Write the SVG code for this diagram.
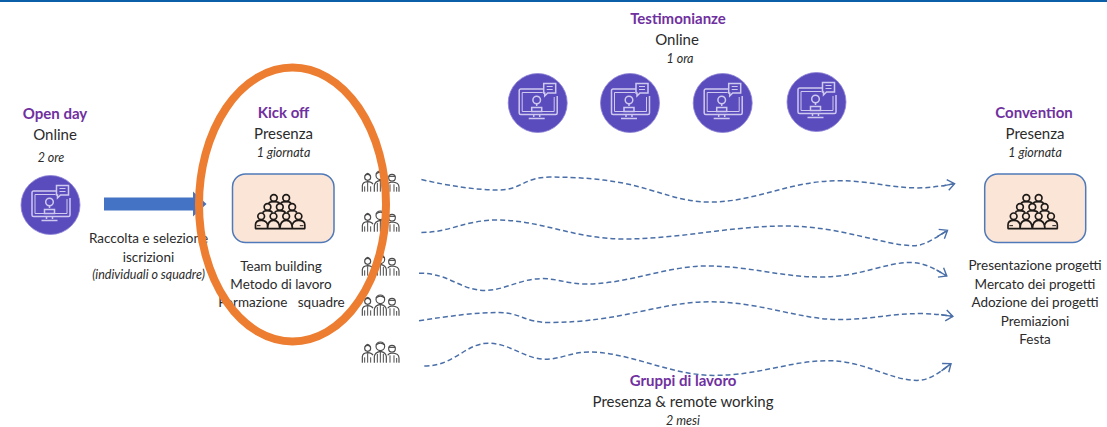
<svg xmlns="http://www.w3.org/2000/svg" width="1107" height="427" viewBox="0 0 1107 427">
<style>
text{font-family:"Lato","Carlito","Liberation Sans",sans-serif;text-anchor:middle;fill:#2b2b2b;white-space:pre}
.t{font-size:15px;font-weight:700;fill:#7030a0}
.b{font-size:15px}
.s{font-size:13.5px}
.i{font-size:12.5px;font-style:italic}
.box{fill:#fbe5d6;stroke:#4f79b8;stroke-width:1.5}
.flow{fill:none;stroke:#4a6fa8;stroke-width:1.5;stroke-dasharray:5 3;marker-end:url(#chev)}
</style>
<defs>
<marker id="chev" markerUnits="userSpaceOnUse" markerWidth="14" markerHeight="14" refX="12" refY="7" orient="auto" overflow="visible">
<path d="M5 1.5L12 7L5 12.5M0 7H12" fill="none" stroke="#4a6fa8" stroke-width="1.4"/>
</marker>
<g id="screen">
<circle r="29.5" fill="#5a4cbc" stroke="#8d83d6" stroke-width="0.8"/>
<g fill="none" stroke="#cfc9ef" stroke-width="1.5">
<path d="M7-14H-17a1.5 1.5 0 0 0-1.500 1.500V10a1.500 1.500 0 0 0 1.500 1.500H18a1.500 1.500 0 0 0 1.500-1.500V-7"/>
<path d="M-15.500-10.500H5M16.500-6V8.500H-15.500V-10.500" stroke-width="1"/>
<circle cx="-1" cy="-3" r="3.800"/>
<path d="M-1 1V3M-6 4.500H4V8.500H-6ZM-4 14V11.500M2 14V11.500M-9 15.500H7"/>
<path d="M6-19.500H18V-10H10L7-7V-10H6Z" fill="#5a4cbc"/>
<path d="M9-16.500H15M9-13.500H15" stroke-width="1"/>
</g>
</g>
<g id="crowd" transform="scale(0.3333)" fill="none" stroke="#1e1a18" stroke-width="5">
<circle cx="55" cy="24" r="10"/><circle cx="92" cy="24" r="10"/>
<circle cx="36" cy="51" r="10"/><circle cx="73" cy="51" r="10"/><circle cx="110" cy="51" r="10"/>
<circle cx="17" cy="79" r="10"/><circle cx="54" cy="79" r="10"/><circle cx="92" cy="79" r="10"/><circle cx="129" cy="79" r="10"/>
<path d="M0 116V104Q0 91 17 91Q33 91 36 104V116M36 116Q36 91 54 91Q72 91 73 116Q74 91 92 91Q110 91 111 116M111 104Q114 91 129 91Q148 91 148 104V116M-1 116H149"/>
<path d="M22 68Q24 62 36 62Q48 62 51 68M58 68Q60 62 73 62Q86 62 90 68M96 68Q98 62 110 62Q122 62 124 68M40 40Q42 35 55 35Q68 35 72 40M76 40Q78 35 92 35Q104 35 106 40"/>
<path d="M4 107H15M133 107H144" stroke-width="3"/>
</g>
<g id="team" transform="scale(0.3333)" fill="none" stroke="#4c4c4c" stroke-width="3.500">
<circle cx="17" cy="25" r="9"/><path d="M9 20Q17 6 25 20"/>
<circle cx="55" cy="19" r="13"/><path d="M42 15Q55 4 68 15"/>
<circle cx="90" cy="26" r="10"/><path d="M80 22H100"/>
<path d="M1 68V50Q2 39 17 38Q30 39 33 46M37 68V50Q38 37 55 34Q72 37 73 50V68M77 46Q80 40 90 39Q111 40 111 54V68"/>
<path d="M8 68V52M17 68V40M26 68V52M46 68V42M55 68V36M64 68V42M84 68V46M96 68V46M104 68V54" stroke-width="3"/>
</g>
</defs>
<rect width="1107" height="427" fill="#fff"/>
<rect width="1107" height="2" fill="#0a5fa8"/>

<g id="open-day">
<text class="t" x="55" y="119">Open day</text>
<text class="b" x="55" y="140">Online</text>
<text class="i" x="51" y="162">2 ore</text>
<use href="#screen" x="50.500" y="205"/>
</g>
<g id="kick-off">
<text class="t" x="283.500" y="118">Kick off</text>
<text class="b" x="283.500" y="139">Presenza</text>
<text class="i" x="283.500" y="157">1 giornata</text>
<rect class="box" x="232.500" y="174" width="101.500" height="68.500" rx="13"/>
<use href="#crowd" x="255.500" y="190"/>
<text class="s" x="281" y="270.500">Team building</text>
<text class="s" x="281" y="288.500">Metodo di lavoro</text>
<text class="s" x="281.500" y="307">Formazione   squadre</text>
</g>
<g id="testimonianze">
<text class="t" x="678" y="23.500">Testimonianze</text>
<text class="b" x="677" y="45">Online</text>
<text class="i" x="680" y="63">1 ora</text>
<use href="#screen" x="537.700" y="103"/>
<use href="#screen" x="630" y="103"/>
<use href="#screen" x="722.700" y="103"/>
<use href="#screen" x="816.500" y="102"/>
</g>
<g id="convention">
<text class="t" x="1034" y="118">Convention</text>
<text class="b" x="1035" y="139">Presenza</text>
<text class="i" x="1035" y="157">1 giornata</text>
<rect class="box" x="984.700" y="174" width="101" height="68.500" rx="13"/>
<use href="#crowd" x="1008" y="190"/>
<text class="s" x="1035" y="270">Presentazione progetti</text>
<text class="s" x="1035" y="288.500">Mercato dei progetti</text>
<text class="s" x="1035" y="307">Adozione dei progetti</text>
<text class="s" x="1035" y="325.500">Premiazioni</text>
<text class="s" x="1035" y="343.500">Festa</text>
</g>
<g id="gruppi">
<text class="t" x="683" y="386">Gruppi di lavoro</text>
<text class="b" x="683" y="407">Presenza &amp; remote working</text>
<text class="i" x="683" y="425">2 mesi</text>
<use href="#team" x="362" y="169"/>
<use href="#team" x="362" y="209"/>
<use href="#team" x="362" y="253"/>
<use href="#team" x="362" y="293"/>
<use href="#team" x="362" y="340"/>
</g>
<g id="selezione">
<text class="s" x="148.500" y="243">Raccolta e selezione</text>
<text class="s" x="148.500" y="261.500">iscrizioni</text>
<text class="i" x="148.500" y="279">(individuali o squadre)</text>
</g>

<g id="connectors">
<path d="M104 197.500H193V191.500L206.500 204L193 216.500V210.500H104Z" fill="#4472c4"/>
<path class="flow" d="M421.400 179.600C450 186 475 190 499.300 190C520 190 525 177.100 549.300 177.100C580 177.100 600 179 624 183.200C660 191 680 202.100 710 202.100C755 202.100 790 180.700 838.600 180.700C870 180.700 890 187.900 917 187.900C930 187.900 942 186 954.600 183.600"/>
<path class="flow" d="M421.400 232.500C450 232.500 465 220 497.500 220C540 220 575 239 624 239C680 239 730 226 785 226C840 226 885 245.700 913.600 245.700C925 245.700 935 238 947.500 230.400"/>
<path class="flow" d="M419 273.200C450 273.200 460 290.400 485 290.400C505 290.400 520 278.600 542 278.600C558 278.600 568 284 585 284C630 284 665 266 706.400 266C750 266 780 277 820.700 277C860 277 885 262.500 910 262.500C925 262.500 935 269 946.800 276"/>
<path class="flow" d="M419 320.700C450 316 475 312.500 499 312.500C520 312.500 525 322.500 549 322.500C620 322.500 660 301.800 710 301.800C760 301.800 800 319.600 838.600 319.600C870 319.600 890 313.600 920.700 313.600C933 313.600 943 315 952.900 316.400"/>
<path class="flow" d="M424.300 366C455 366 465 343.200 488.600 343.200C510 343.200 525 359.300 545.700 359.300C560 359.300 572 352 588.600 352C630 352 670 375.400 713.600 375.400C760 375.400 790 360.700 828 360.700C865 360.700 890 380.400 917 380.400C930 380.400 940 372 951 363.600"/>
</g>

<ellipse id="highlight" cx="292.500" cy="204.500" rx="93.500" ry="137" fill="none" stroke="#ed7d31" stroke-width="8"/>
</svg>
